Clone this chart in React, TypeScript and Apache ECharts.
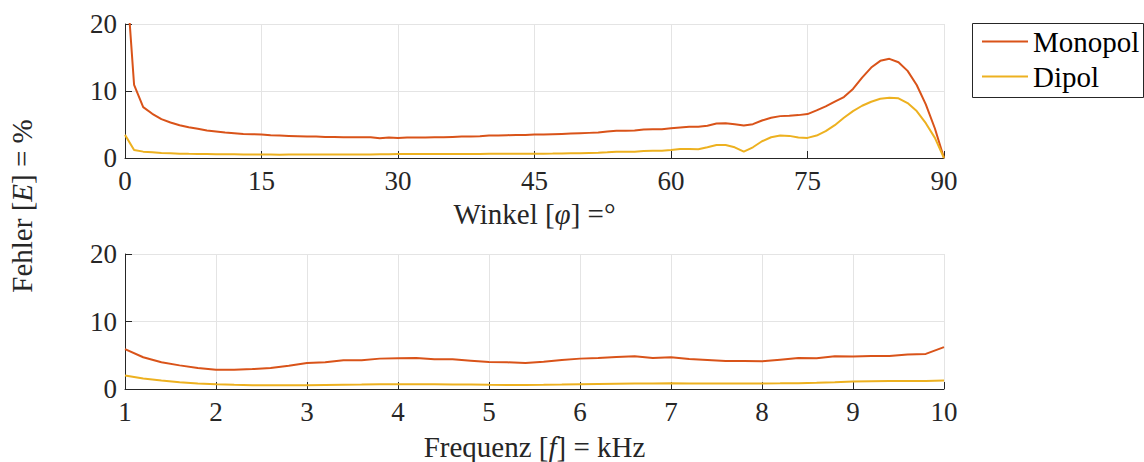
import React, { useEffect, useRef } from "react";
import * as echarts from "echarts";

const FONT = "'Liberation Serif', 'Times New Roman', serif";
const TXT = "#262626";
const GRIDC = "#e4e4e4";
const C_MONO = "#D95319";
const C_DIPOL = "#EDB120";

const seriesNames = ["Monopol", "Dipol"];

const angles = [
  0, 1, 2, 3, 4, 5, 6, 7, 8, 9, 10, 11, 12, 13, 14, 15, 16, 17, 18, 19, 20,
  21, 22, 23, 24, 25, 26, 27, 28, 29, 30, 31, 32, 33, 34, 35, 36, 37, 38, 39, 40,
  41, 42, 43, 44, 45, 46, 47, 48, 49, 50, 51, 52, 53, 54, 55, 56, 57, 58, 59, 60,
  61, 62, 63, 64, 65, 66, 67, 68, 69, 70, 71, 72, 73, 74, 75, 76, 77, 78, 79, 80,
  81, 82, 83, 84, 85, 86, 87, 88, 89, 90,
];

const monoAngle = [
  30, 10.9, 7.6, 6.6, 5.8, 5.3, 4.9, 4.6, 4.35, 4.1, 3.95,
  3.8, 3.7, 3.6, 3.55, 3.5, 3.4, 3.35, 3.3, 3.25, 3.2,
  3.2, 3.15, 3.15, 3.1, 3.1, 3.1, 3.1, 2.95, 3.05, 3.0,
  3.05, 3.05, 3.05, 3.1, 3.1, 3.15, 3.2, 3.2, 3.25, 3.35,
  3.35, 3.4, 3.45, 3.45, 3.5, 3.5, 3.55, 3.6, 3.65, 3.7,
  3.75, 3.8, 3.95, 4.05, 4.05, 4.1, 4.25, 4.3, 4.3, 4.45,
  4.55, 4.65, 4.65, 4.8, 5.15, 5.2, 5.05, 4.85, 5.05, 5.6,
  6.0, 6.25, 6.3, 6.4, 6.55, 7.1, 7.7, 8.4, 9.1, 10.3,
  12.0, 13.5, 14.5, 14.8, 14.3, 13.0, 10.9, 8.0, 4.4, 0,
];

const dipolAngle = [
  3.45, 1.2, 0.95, 0.85, 0.75, 0.7, 0.65, 0.62, 0.6, 0.58, 0.56,
  0.55, 0.55, 0.54, 0.53, 0.52, 0.52, 0.5, 0.52, 0.52, 0.52,
  0.52, 0.52, 0.53, 0.53, 0.53, 0.54, 0.54, 0.55, 0.56, 0.58,
  0.58, 0.58, 0.59, 0.59, 0.6, 0.6, 0.6, 0.61, 0.61, 0.62,
  0.62, 0.62, 0.63, 0.63, 0.63, 0.65, 0.66, 0.68, 0.7, 0.72,
  0.75, 0.78, 0.85, 0.95, 0.95, 0.95, 1.05, 1.1, 1.1, 1.2,
  1.35, 1.35, 1.3, 1.6, 1.95, 1.95, 1.6, 0.95, 1.6, 2.5,
  3.1, 3.35, 3.3, 3.05, 3.0, 3.35, 4.0, 4.9, 6.0, 7.0,
  7.8, 8.4, 8.85, 9.0, 8.9, 8.2, 7.0, 5.2, 3.0, 0,
];

const freqs = [
  1.0, 1.2, 1.4, 1.6, 1.8, 2.0, 2.2, 2.4, 2.6, 2.8, 3.0, 3.2, 3.4, 3.6, 3.8,
  4.0, 4.2, 4.4, 4.6, 4.8, 5.0, 5.2, 5.4, 5.6, 5.8, 6.0, 6.2, 6.4, 6.6, 6.8,
  7.0, 7.2, 7.4, 7.6, 7.8, 8.0, 8.2, 8.4, 8.6, 8.8, 9.0, 9.2, 9.4, 9.6, 9.8, 10.0,
];

const monoFreq = [
  5.9, 4.7, 3.95, 3.5, 3.1, 2.85, 2.85, 2.95, 3.1, 3.45, 3.85, 3.95, 4.25, 4.25, 4.5,
  4.55, 4.6, 4.4, 4.4, 4.2, 4.0, 3.95, 3.85, 4.05, 4.3, 4.5, 4.6, 4.75, 4.85, 4.6,
  4.7, 4.45, 4.3, 4.15, 4.15, 4.1, 4.35, 4.6, 4.55, 4.85, 4.8, 4.9, 4.9, 5.1, 5.2, 6.2,
];

const dipolFreq = [
  2.0, 1.55, 1.25, 1.0, 0.82, 0.7, 0.62, 0.57, 0.55, 0.55, 0.57, 0.6, 0.63, 0.66, 0.7,
  0.72, 0.72, 0.7, 0.68, 0.65, 0.62, 0.6, 0.6, 0.62, 0.65, 0.7, 0.75, 0.78, 0.8, 0.82,
  0.84, 0.82, 0.8, 0.8, 0.8, 0.82, 0.84, 0.87, 0.93, 1.0, 1.1, 1.15, 1.18, 1.2, 1.2, 1.25,
];

const angleTicks = { min: 0, max: 90, interval: 15 };
const freqTicks = { min: 1, max: 10, interval: 1 };
const errTicks = { min: 0, max: 20, interval: 10 };

const FS_TICK = 27;
const FS_NAME = 29;
const FS_LEG = 29;

export default function App() {
  const ref = useRef<HTMLDivElement>(null);
  useEffect(() => {
    const chart = echarts.init(ref.current!, null, { renderer: "svg" });
    const xAxisBase = (idx: number, ticks: any, name: string, gap: number) => ({
      type: "value",
      gridIndex: idx,
      ...ticks,
      name,
      nameLocation: "middle",
      nameGap: gap,
      nameTextStyle: {
        fontFamily: FONT,
        fontSize: FS_NAME,
        color: TXT,
        rich: { i: { fontFamily: FONT, fontSize: FS_NAME, fontStyle: "italic", color: TXT } },
      },
      axisLine: { show: true, onZero: false, lineStyle: { color: TXT, width: 1 } },
      axisTick: { show: true, inside: true, length: 7, lineStyle: { color: TXT } },
      axisLabel: { fontFamily: FONT, fontSize: FS_TICK, color: TXT, margin: 9 },
      splitLine: { show: true, lineStyle: { color: GRIDC, width: 1 } },
    });
    const yAxisBase = (idx: number) => ({
      type: "value",
      gridIndex: idx,
      ...errTicks,
      axisLine: { show: true, onZero: false, lineStyle: { color: TXT, width: 1 } },
      axisTick: { show: true, inside: true, length: 7, lineStyle: { color: TXT } },
      axisLabel: { fontFamily: FONT, fontSize: FS_TICK, color: TXT, margin: 8 },
      splitLine: { show: true, lineStyle: { color: GRIDC, width: 1 } },
    });
    const line = (name: string, color: string, xi: number, xs: number[], ys: number[]) => ({
      type: "line",
      name,
      xAxisIndex: xi,
      yAxisIndex: xi,
      data: xs.map((x, i) => [x, ys[i]]),
      showSymbol: false,
      symbol: "none",
      clip: true,
      color,
      lineStyle: { color, width: 2 },
      itemStyle: { color },
    });
    chart.setOption({
      animation: false,
      backgroundColor: "#ffffff",
      grid: [
        { left: 125, width: 819, top: 24, height: 134 },
        { left: 125, width: 819, top: 254, height: 135 },
      ],
      xAxis: [
        xAxisBase(0, angleTicks, "Winkel [{i|φ}] =°", 41),
        xAxisBase(1, freqTicks, "Frequenz [{i|f}] = kHz", 43),
      ],
      yAxis: [yAxisBase(0), yAxisBase(1)],
      legend: {
        orient: "vertical",
        left: 982,
        top: 27,
        padding: 0,
        itemGap: 6,
        itemWidth: 46,
        itemHeight: 2,
        icon: "rect",
        data: seriesNames,
        textStyle: { fontFamily: FONT, fontSize: FS_LEG, color: "#000" },
      },
      graphic: [
        {
          type: "rect",
          left: 972,
          top: 23,
          shape: { width: 171, height: 74 },
          style: { fill: "#fff", stroke: "#262626", lineWidth: 1 },
          z: -1,
        },
        {
          type: "text",
          x: 22,
          y: 206,
          rotation: Math.PI / 2,
          style: {
            text: "Fehler [{i|E}] = %",
            fontFamily: FONT,
            fontSize: FS_NAME,
            fill: TXT,
            align: "center",
            verticalAlign: "middle",
            rich: { i: { fontFamily: FONT, fontSize: FS_NAME, fontStyle: "italic", fill: TXT } },
          },
        },
      ],
      series: [
        line(seriesNames[0], C_MONO, 0, angles, monoAngle),
        line(seriesNames[1], C_DIPOL, 0, angles, dipolAngle),
        line(seriesNames[0], C_MONO, 1, freqs, monoFreq),
        line(seriesNames[1], C_DIPOL, 1, freqs, dipolFreq),
      ],
    });
    return () => chart.dispose();
  }, []);
  return (
    <div
      ref={ref}
      style={{ position: "absolute", left: 0, top: 0, width: 1144, height: 462 }}
    />
  );
}
